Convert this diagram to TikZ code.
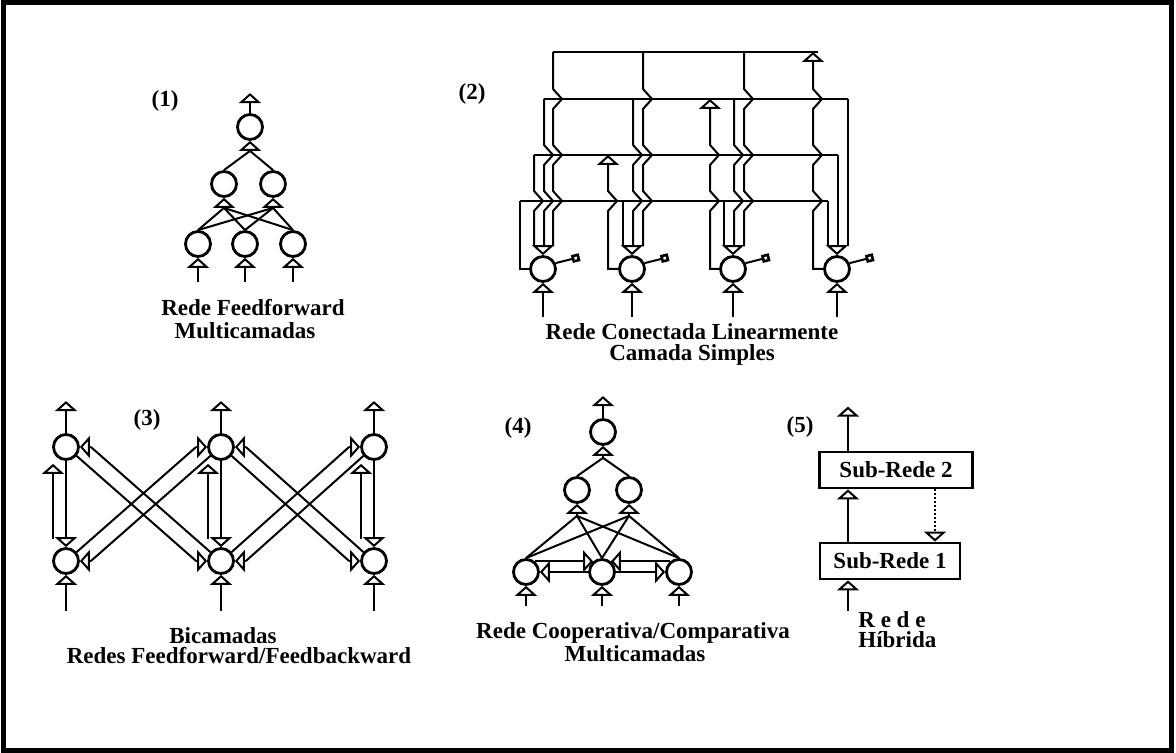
\documentclass[tikz,border=0pt]{standalone}
\usepackage{fontspec}
\setmainfont{Liberation Serif}
\usepackage{tikz}
\usetikzlibrary{arrows.meta,calc}

\tikzset{
  neuron/.style={circle, draw, line width=1.4pt, minimum size=12.5pt, inner sep=0pt},
  syn/.style={line width=1pt, -{Triangle[open, length=5pt, width=11pt]}},
  wire/.style={line width=1pt},
  bus/.style={line width=1.4pt},
  flag/.style={line width=1pt, -{Square[open, length=4pt, width=4pt, line width=1.3pt]}},
  subnet/.style={draw, line width=1.4pt, minimum height=18pt},
  lbl/.style={font=\fontsize{11.5}{11}\selectfont\bfseries, inner sep=0pt, align=center},
}

\begin{document}
\begin{tikzpicture}[x=0.5pt, y=-0.5pt]
\useasboundingbox (0,0) rectangle (1176,753);

% Frame
\draw[line width=2.5pt] (3,3) rectangle (1171,750);

% (1) feedforward, several layers
\node[lbl] at (165,101) {(1)};
\node[neuron] (f1) at (250,127) {};
\node[neuron] (f21) at (224,184) {};
\node[neuron] (f22) at (273,184) {};
\foreach \i/\x in {1/198,2/245,3/293}
  \node[neuron] (f3\i) at (\x,244) {};
\foreach \n in {f1,f21,f22}
  \coordinate (\n-in) at ($(\n.south)+(0,10)$);

\draw[syn] (f1.north) -- ++(0,-20);
\foreach \n in {f21,f22} {
  \draw[wire] (\n.north) -- (f1-in);
  \foreach \i in {1,2,3}
    \draw[wire] (f3\i.north) -- (\n-in);
}
\foreach \n in {f1,f21,f22}
  \draw[syn] (\n-in) -- (\n.south);
\foreach \i in {1,2,3}
  \draw[syn] ($(f3\i.south)+(0,24)$) -- (f3\i.south);

\node[lbl] at (253,308) {Rede Feedforward};
\node[lbl] at (245,331) {Multicamadas};

% (2) single layer, lateral buses
\node[lbl] at (472,94) {(2)};
\foreach \i/\x in {1/543,2/632,3/733,4/837}
  \node[neuron] (r\i) at (\x,269) {};

% Buses
\draw[bus] (553,52) -- (818,52);
\draw[bus] (544,99) -- (848,99);
\draw[bus] (534,155) -- (838,155);
\draw[bus] (520,201) -- (828,201);

% drops hopping over the lower buses
\foreach \x/\y/\hops in {553/52/{99,155,201}, 643/52/{99,155,201},
    744/52/{99,155,201}, 544/99/{155,201}, 633/99/{155,201},
    734/99/{155,201}, 534/155/{201}}
  \draw[wire] (\x,\y) \foreach \yb in \hops {-- (\x,\yb-10) -- (\x+9,\yb) -- (\x,\yb+10)} -- (\x,246.5);
\foreach \x/\y in {848/99, 838/155, 623/201, 724/201, 828/201}
  \draw[wire] (\x,\y) -- (\x,246.5);

% each neuron feeds its own bus from the left
\draw[wire] (r1.west) -| (520,201);
\foreach \i/\x/\y/\hops in {2/608/155/{201}, 3/710/99/{201,155}, 4/813/52/{201,155,99}}
  \draw[syn] (r\i.west) -- (\x,269) \foreach \yb in \hops {-- (\x,\yb+10) -- (\x+9,\yb) -- (\x,\yb-10)} -- (\x,\y);

\foreach \i in {1,...,4} {
  \draw[syn] ($(r\i.north)+(0,-10)$) -- (r\i.north);
  \draw[syn] ($(r\i.south)+(0,34)$) -- (r\i.south);
  \draw[flag] (r\i.25) -- ++(24,-6);
}

\node[lbl] at (692,332) {Rede Conectada Linearmente};
\node[lbl] at (692,355) {Camada Simples};

% (3) two layers, forward and backward
\node[lbl] at (147,420) {(3)};
\foreach \i/\x in {1/66,2/221,3/374} {
  \node[neuron] (p\i) at (\x,447) {};
  \node[neuron] (q\i) at (\x,561) {};
}
\foreach \i in {1,2,3} {
  \draw[syn] (p\i.north) -- ++(0,-32);
  \draw[syn] ($(q\i.south)+(0,36)$) -- (q\i.south);
  \draw[syn] (p\i.south) -- (q\i.north);
  \draw[syn] ($(q\i.north)+(-13,-8)$) -- ($(p\i.south)+(-13,3)$);
}
\foreach \i in {1,2} {
  \coordinate (p\i-e) at ($(p\i.east)+(11,0)$);
  \coordinate (q\i-e) at ($(q\i.east)+(11,0)$);
  \draw[syn] (p\i-e) -- (p\i.east);
  \draw[syn] (q\i-e) -- (q\i.east);
}
\foreach \i in {2,3} {
  \coordinate (p\i-w) at ($(p\i.west)+(-11,0)$);
  \coordinate (q\i-w) at ($(q\i.west)+(-11,0)$);
  \draw[syn] (p\i-w) -- (p\i.west);
  \draw[syn] (q\i-w) -- (q\i.west);
}
% crossed pairs
\foreach \i/\j in {1/2,2/3} {
  \draw[wire] (p\i.-40) -- (q\j-w);
  \draw[wire] (q\j.140) -- (p\i-e);
  \draw[wire] (q\i.40) -- (p\j-w);
  \draw[wire] (p\j.-140) -- (q\i-e);
}

\node[lbl] at (223,636) {Bicamadas};
\node[lbl] at (239,656) {Redes Feedforward/Feedbackward};

% (4) cooperative / competitive
\node[lbl] at (518,428) {(4)};
\node[neuron] (c1) at (603,432) {};
\node[neuron] (c21) at (577,490) {};
\node[neuron] (c22) at (629,490) {};
\foreach \i/\x in {1/526,2/602,3/679}
  \node[neuron] (c3\i) at (\x,572) {};
\foreach \n in {c1,c21,c22}
  \coordinate (\n-in) at ($(\n.south)+(0,12)$);

\draw[syn] (c1.north) -- ++(0,-22);
\foreach \n in {c21,c22} {
  \draw[wire] (\n.north) -- (c1-in);
  \foreach \i in {1,2,3}
    \draw[wire] (c3\i.north) -- (\n-in);
}
\foreach \n in {c1,c21,c22}
  \draw[syn] (\n-in) -- (\n.south);
\foreach \i in {1,2,3}
  \draw[syn] ($(c3\i.south)+(0,20)$) -- (c3\i.south);

% lateral links in the lower layer
\draw[syn] (c31.50) -- (c32.130);
\draw[syn] (c32.west) -- (c31.east);
\draw[syn] (c33.130) -- (c32.50);
\draw[syn] (c32.east) -- (c33.west);

\node[lbl] at (633,633) {Rede Cooperativa/Comparativa};
\node[lbl] at (635,654) {Multicamadas};

% (5) hybrid
\node[lbl] at (800,427) {(5)};
\node[subnet, minimum width=76.5pt] (s2) at (896,470) {\fontsize{11.5}{11}\selectfont\bfseries Sub-Rede 2};
\node[subnet, minimum width=70pt] (s1) at (890,561) {\fontsize{11.5}{11}\selectfont\bfseries Sub-Rede 1};
\coordinate (h-up) at (848,611);
\coordinate (h-fb) at (935,500);

\draw[syn] (h-up) -- (h-up |- s1.south);
\draw[syn] (h-up |- s1.north) -- (h-up |- s2.south);
\draw[syn] (h-up |- s2.north) -- ++(0,-44);
\draw[syn, densely dotted] (h-fb |- s2.south) -- (h-fb |- s1.north);

\node[lbl, anchor=west] at (858,620) {R e d e};
\node[lbl, anchor=west] at (858,640) {Híbrida};

\end{tikzpicture}
\end{document}
